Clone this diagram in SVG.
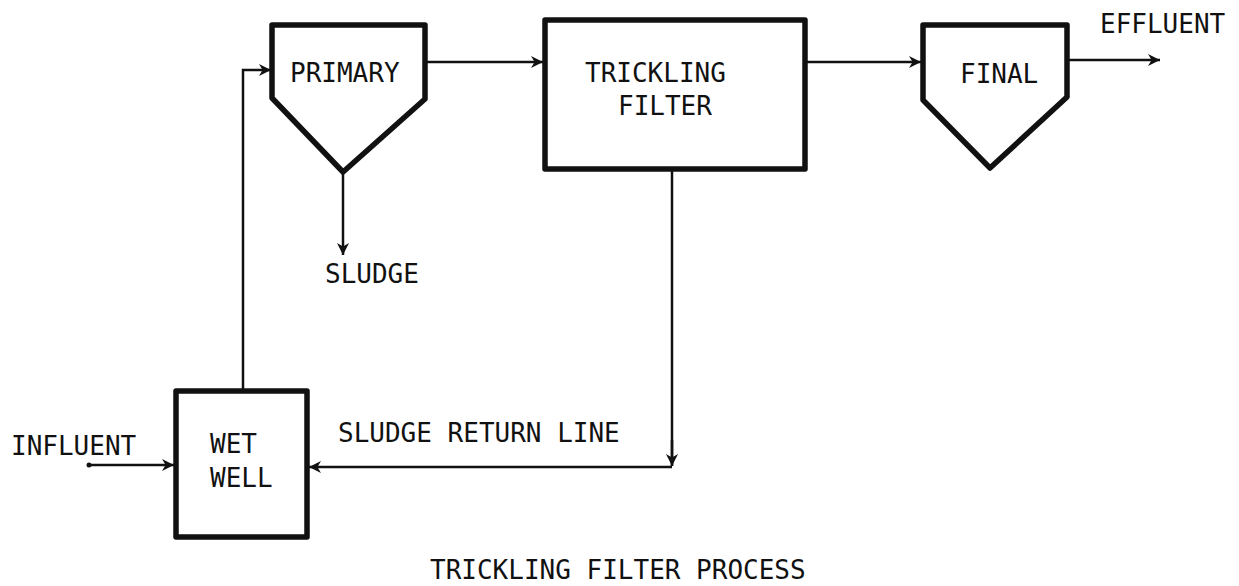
<svg xmlns="http://www.w3.org/2000/svg" width="1239" height="586" viewBox="0 0 1239 586">
<defs>
<marker id="arr" viewBox="0 0 10 10" refX="10" refY="5" markerWidth="12" markerHeight="12" markerUnits="userSpaceOnUse" orient="auto">
<path d="M0,0 L10,5 L0,10 L3,5 Z" fill="#111"/>
</marker>
<style>
.box{fill:#fff;stroke:#111;stroke-width:5.5;stroke-linejoin:round}
.ln{fill:none;stroke:#111;stroke-width:2.5}
.t{font-family:"DejaVu Sans Mono","Liberation Mono",monospace;font-size:26px;fill:#111}
</style>
</defs>
<rect width="1239" height="586" fill="#fff"/>
<g id="connectors">
<path class="ln" d="M243,390 V70 H271" marker-end="url(#arr)"/>
<path class="ln" d="M425,62 H543" marker-end="url(#arr)"/>
<path class="ln" d="M343,173 V255" marker-end="url(#arr)"/>
<path class="ln" d="M805,62 H921" marker-end="url(#arr)"/>
<path class="ln" d="M1067,60 H1160" marker-end="url(#arr)"/>
<path class="ln" d="M672,170 V466"/>
<path class="ln" d="M672,440 V466" marker-end="url(#arr)"/>
<path class="ln" d="M672,467 H309" marker-end="url(#arr)"/>
<path class="ln" d="M89,465 H174" marker-end="url(#arr)"/>
<circle cx="89" cy="465" r="2.5" fill="#111"/>
</g>
<g id="primary">
<path class="box" d="M272,25 H425 V99 L343,172 L272,98 Z"/>
<text class="t" x="290" y="82">PRIMARY</text>
</g>
<g id="trickling-filter">
<rect class="box" x="545" y="20" width="260" height="149"/>
<text class="t" x="585" y="82">TRICKLING</text>
<text class="t" x="618" y="115">FILTER</text>
</g>
<g id="final">
<path class="box" d="M923,25 H1067 V97 L990,168 L923,100 Z"/>
<text class="t" x="960" y="83">FINAL</text>
</g>
<g id="wet-well">
<rect class="box" x="176" y="391" width="131" height="146"/>
<text class="t" x="210" y="453">WET</text>
<text class="t" x="210" y="487">WELL</text>
</g>
<g id="labels">
<text class="t" x="1100" y="33">EFFLUENT</text>
<text class="t" x="325" y="283">SLUDGE</text>
<text class="t" x="11" y="455">INFLUENT</text>
<text class="t" x="338" y="442">SLUDGE RETURN LINE</text>
<text class="t" x="430" y="579">TRICKLING FILTER PROCESS</text>
</g>
</svg>
